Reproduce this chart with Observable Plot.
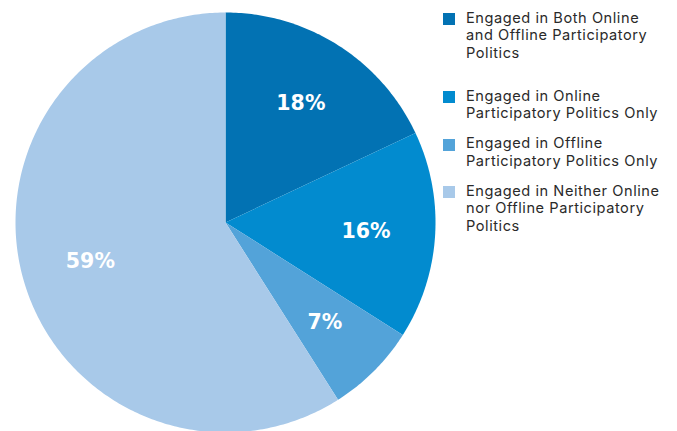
<!DOCTYPE html>
<html><head><meta charset="utf-8">
<script src="https://cdn.jsdelivr.net/npm/d3@7"></script>
<script src="https://cdn.jsdelivr.net/npm/@observablehq/plot@0.6"></script>
<style>
html,body{margin:0;padding:0;background:#fff;}
#wrap{position:relative;width:677px;height:431px;overflow:hidden;}
#legend{position:absolute;left:443px;top:0;width:234px;height:431px;font-family:Inter,"Open Sans",sans-serif;font-size:14.6px;letter-spacing:0.55px;line-height:17.8px;color:#2a2a2a;}
.item{position:absolute;left:0;}
.sw{position:absolute;left:0;width:12px;height:12px;}
.lab{position:absolute;left:23px;white-space:nowrap;}
</style>
</head><body>
<div id="wrap"><div id="chart"></div><div id="legend"></div></div>
<script>
const categories = [
  "Engaged in Both Online and Offline Participatory Politics",
  "Engaged in Online Participatory Politics Only",
  "Engaged in Offline Participatory Politics Only",
  "Engaged in Neither Online nor Offline Participatory Politics"
];
const legendLines = [
  ["Engaged in Both Online", "and Offline Participatory", "Politics"],
  ["Engaged in Online", "Participatory Politics Only"],
  ["Engaged in Offline", "Participatory Politics Only"],
  ["Engaged in Neither Online", "nor Offline Participatory", "Politics"]
];
const shares = [18, 16, 7, 59];
const valueLabels = ["18%", "16%", "7%", "59%"];
const colors = ["#0272b3", "#028bcf", "#53a3d9", "#a8c9e9"];

const R = 210, cx = 225, cy = 222, W = 677, H = 431;

const arcs = d3.pie().sort(null).value(d => d)(shares);
const poly = [];
arcs.forEach((a, i) => {
  const n = Math.max(4, Math.ceil((a.endAngle - a.startAngle) * 80));
  poly.push({k: categories[i], x: 0, y: 0});
  for (let j = 0; j <= n; j++) {
    const t = a.startAngle + (a.endAngle - a.startAngle) * j / n;
    poly.push({k: categories[i], x: Math.sin(t), y: Math.cos(t)});
  }
  poly.push({k: categories[i], x: 0, y: 0});
});
const labelPts = arcs.map((a, i) => {
  const m = (a.startAngle + a.endAngle) / 2;
  return {x: 0.67 * Math.sin(m), y: 0.67 * Math.cos(m), t: valueLabels[i]};
});

const chart = Plot.plot({
  width: W, height: H,
  marginLeft: cx - R, marginRight: W - (cx + R),
  marginTop: cy - R, marginBottom: 0,
  x: {domain: [-1, 1], axis: null},
  y: {domain: [1 - (H - (cy - R)) / R, 1], axis: null},
  color: {domain: categories, range: colors},
  marks: [
    Plot.line(poly, {x: "x", y: "y", z: "k", fill: "k", stroke: "none", curve: "linear"}),
    Plot.text(labelPts, {x: "x", y: "y", text: "t", fill: "white", fontSize: 20.5, fontWeight: "bold", fontFamily: "DejaVu Sans", textAnchor: "middle", lineAnchor: "middle"})
  ]
});
document.getElementById("chart").appendChild(chart);

const itemTops = [9.5, 87.5, 135, 182.5];
const lg = document.getElementById("legend");
legendLines.forEach((lines, i) => {
  const it = document.createElement("div");
  it.className = "item";
  it.style.top = itemTops[i] + "px";
  const sw = document.createElement("div");
  sw.className = "sw"; sw.style.background = colors[i]; sw.style.top = "3.5px";
  const lab = document.createElement("div");
  lab.className = "lab";
  lab.innerHTML = lines.join("<br>");
  it.appendChild(sw); it.appendChild(lab);
  lg.appendChild(it);
});
</script>
</body></html>
